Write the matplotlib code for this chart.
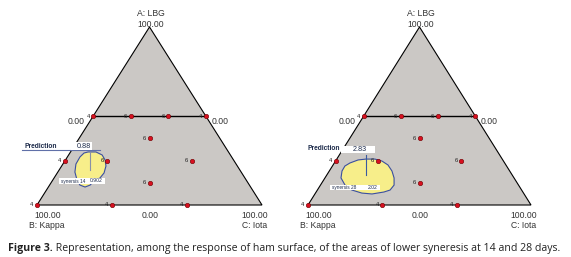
import matplotlib
matplotlib.use("Agg")
import matplotlib.pyplot as plt
from matplotlib.patches import Polygon, Rectangle

# ---------------- data ----------------
# design points (A: LBG, C: Iota fractions; B = 1 - A - C) and replicate labels
design_A = [0.5, 0.5, 0.5, 0.5, 0.375, 0.25, 0.25, 0.25, 0.125, 0.0, 0.0, 0.0]
design_C = [0.0, 1/6, 1/3, 0.5, 0.3125, 0.0, 0.1875, 0.5625, 0.4375, 0.0, 1/3, 2/3]
design_lbl = ["4", "6", "6", "4", "6", "4", "6", "6", "6", "4", "4", "4"]

# region of lower syneresis, 14 days (boundary, A and C fractions)
blob14_A = [0.298, 0.298, 0.281, 0.253, 0.219, 0.180, 0.152, 0.135, 0.112, 0.101,
            0.112, 0.140, 0.185, 0.230, 0.270, 0.292]
blob14_C = [0.078, 0.113, 0.149, 0.176, 0.197, 0.208, 0.204, 0.186, 0.180, 0.163,
            0.135, 0.108, 0.076, 0.058, 0.056, 0.063]
# region of lower syneresis, 28 days
blob28_A = [0.236, 0.253, 0.258, 0.258, 0.247, 0.225, 0.191, 0.152, 0.112, 0.084,
            0.073, 0.062, 0.067, 0.084, 0.112, 0.152, 0.191, 0.219]
blob28_C = [0.070, 0.098, 0.131, 0.171, 0.208, 0.246, 0.281, 0.310, 0.330, 0.326,
            0.304, 0.256, 0.208, 0.155, 0.110, 0.072, 0.057, 0.056]

# prediction flags
flag_A = [0.197, 0.169]
flag_C = [0.137, 0.176]
pred_values = ["0.88", "2.83"]
syn_labels = ["synersis 14", "synersis 28"]
syn_values = ["0.902", "2.02"]

vertex_names = ["A: LBG", "B: Kappa", "C: Iota"]
caption_bold = "Figure 3."
caption_rest = (" Representation, among the response of ham surface, of the areas of "
                "lower syneresis at 14 and 28 days.")

# ---------------- helpers ----------------
def tern(A, C):
    return [c + a / 2 for a, c in zip(A, C)], list(A)

W, H = 571, 257
fig = plt.figure(figsize=(W / 100, H / 100), dpi=100)

panels = [
    dict(x0=37, w=225, blobA=blob14_A, blobC=blob14_C),
    dict(x0=308, w=223, blobA=blob28_A, blobC=blob28_C),
]
base_py, apex_py = 205, 27

tfont = "Liberation Sans"
txtcol = "#333333"

for i, p in enumerate(panels):
    x0, w = p["x0"], p["w"]
    ax = fig.add_axes([x0 / W, (H - base_py) / H, w / W, (base_py - apex_py) / H])
    ax.set_xlim(0, 1)
    ax.set_ylim(0, 1)
    ax.axis("off")

    def d(px, py, x0=x0, w=w):
        return (px - x0) / w, (base_py - py) / (base_py - apex_py)

    # triangle
    tri = Polygon([(0, 0), (1, 0), (0.5, 1)], closed=True, facecolor="#cbc8c5",
                  edgecolor="black", lw=0.8, zorder=1, clip_on=False)
    ax.add_patch(tri)

    # constraint line A = 0.5
    lx, ly = tern([0.5, 0.5], [0.0, 0.5])
    ax.plot(lx, ly, color="black", lw=1.0, zorder=3, clip_on=False)

    # region
    bx, by = tern(p["blobA"], p["blobC"])
    ax.add_patch(Polygon(list(zip(bx, by)), closed=True, facecolor="#f7ee8a",
                         edgecolor="#3a4fa0", lw=0.8, zorder=2))

    # design points
    px_, py_ = tern(design_A, design_C)
    ax.plot(px_, py_, "o", ms=3.2, mfc="#d81020", mec="#6a0000", mew=0.4,
            zorder=5, clip_on=False)
    for xx, yy, lb in zip(px_, py_, design_lbl):
        ax.annotate(lb, (xx, yy), xytext=(-2.6, 0), textcoords="offset points",
                    ha="right", va="center", fontsize=4.2, color="#222222",
                    fontfamily=tfont, zorder=6, annotation_clip=False)

    # vertex labels
    kw = dict(fontsize=6.2, color=txtcol, fontfamily=tfont, ha="center", va="center",
              clip_on=False)
    ax.text(*d(x0 + w / 2 + 1, 13), vertex_names[0], **kw)
    ax.text(*d(x0 + w / 2 + 1, 24), "100.00", **kw)
    ax.text(*d(x0 + 39, 121), "0.00", **kw)
    ax.text(*d(x0 + w - 42, 121), "0.00", **kw)
    ax.text(*d(x0 + 11, 216), "100.00", **kw)
    ax.text(*d(x0 + 10, 225), vertex_names[1], **kw)
    ax.text(*d(x0 + w / 2 + 1, 216), "0.00", **kw)
    ax.text(*d(x0 + w - 7, 216), "100.00", **kw)
    ax.text(*d(x0 + w - 7, 225), vertex_names[2], **kw)

    # prediction flag
    fx, fy = tern([flag_A[i]], [flag_C[i]])
    fx, fy = fx[0], fy[0]
    if i == 0:
        pred_px, box = (25, 146), (71, 142, 92, 150)
        syn_box = (59, 178, 105, 184)
        ax.plot([d(22, 150)[0], d(100, 150)[0]], [d(22, 150)[1]] * 2,
                color="#6070a8", lw=0.8, clip_on=False, zorder=7)
    else:
        pred_px, box = (308, 149), (341, 146, 375, 153)
        syn_box = (330, 185, 380, 190)
    # vertical stem
    top = d(0, box[3] + 2)[1]
    ax.plot([fx, fx], [fy, top], color="#3a5aa0" if i else "#8890a8", lw=0.8,
            zorder=7, clip_on=False)
    ax.text(*d(*pred_px), "Prediction", fontsize=4.8, fontweight="bold",
            color="#1c2a4a", fontfamily=tfont, ha="left", va="center", zorder=8,
            clip_on=False)
    bx0, by0 = d(box[0], box[3])
    bx1, by1 = d(box[2], box[1])
    ax.add_patch(Rectangle((bx0, by0), bx1 - bx0, by1 - by0, facecolor="white",
                           edgecolor="none", zorder=8, clip_on=False))
    ax.text((bx0 + bx1) / 2 + 0.01, (by0 + by1) / 2, pred_values[i], fontsize=5.2,
            color="#1c2a4a", fontfamily=tfont, ha="center", va="center", zorder=9)
    sx0, sy0 = d(syn_box[0], syn_box[3])
    sx1, sy1 = d(syn_box[2], syn_box[1])
    ax.add_patch(Rectangle((sx0, sy0), sx1 - sx0, sy1 - sy0, facecolor="white",
                           edgecolor="none", zorder=8))
    ax.text(sx0 + 0.01, (sy0 + sy1) / 2, syn_labels[i], fontsize=3.4,
            color="#1c2a4a", fontfamily=tfont, ha="left", va="center", zorder=9)
    ax.text(sx1 - 0.01, (sy0 + sy1) / 2, syn_values[i], fontsize=3.6,
            color="#1c2a4a", fontfamily=tfont, ha="right", va="center", zorder=9)

# caption
cy = (H - 248) / H
t1 = fig.text(8 / W, cy, caption_bold, fontsize=7.6, fontweight="bold",
              fontfamily="Open Sans", color="#222222", ha="left", va="center")
fig.canvas.draw()
bb = t1.get_window_extent(fig.canvas.get_renderer())
fig.text(bb.x1 / W, cy, caption_rest, fontsize=7.6, fontfamily="Open Sans",
         color="#222222", ha="left", va="center")

fig.savefig("out.png", dpi=100, facecolor="white")
